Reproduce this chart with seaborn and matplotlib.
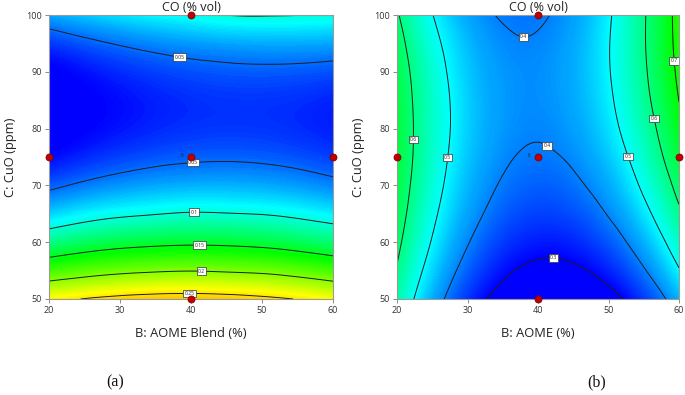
import numpy as np
import matplotlib
matplotlib.use("Agg")
import matplotlib.pyplot as plt
import matplotlib.tri as mtri
import seaborn as sns
from matplotlib.colors import LinearSegmentedColormap, Normalize

# Panel (a): B = AOME Blend (%), C = CuO (ppm), response CO (% vol)
aome_a = [20, 25, 30, 35, 40, 45, 50, 55, 60]
cuo_a = [50, 55, 60, 65, 70, 75, 80, 85, 90, 95, 100]
co_a = [
    [0.242, 0.251, 0.258, 0.262, 0.263, 0.261, 0.256, 0.249, 0.239],
    [0.177, 0.186, 0.193, 0.197, 0.199, 0.197, 0.194, 0.187, 0.178],
    [0.122, 0.132, 0.139, 0.143, 0.145, 0.144, 0.141, 0.135, 0.127],
    [0.078, 0.088, 0.095, 0.099, 0.102, 0.101, 0.099, 0.094, 0.087],
    [0.0448, 0.0542, 0.0613, 0.0662, 0.0688, 0.0692, 0.0673, 0.0632, 0.0570],
    [0.0216, 0.0310, 0.0382, 0.0433, 0.0463, 0.0472, 0.0460, 0.0427, 0.0374],
    [0.0088, 0.0182, 0.0255, 0.0309, 0.0343, 0.0357, 0.0351, 0.0326, 0.0283],
    [0.0064, 0.0158, 0.0233, 0.0289, 0.0327, 0.0346, 0.0347, 0.0331, 0.0297],
    [0.0150, 0.0244, 0.0320, 0.0379, 0.0421, 0.0446, 0.0454, 0.0446, 0.0422],
    [0.0349, 0.0442, 0.0519, 0.0581, 0.0627, 0.0657, 0.0673, 0.0673, 0.0659],
    [0.0659, 0.0752, 0.0830, 0.0895, 0.0945, 0.1003, 0.1015, 0.1005, 0.0985],
]
levels_a = [0.05, 0.1, 0.15, 0.2, 0.25]

# Panel (b): B = AOME (%), C = CuO (ppm), response CO (% vol)
aome_b = [20, 22.5, 25, 27.5, 30, 32.5, 35, 37.5, 40, 42.5, 45, 47.5, 50, 52.5, 55, 57.5, 60]
cuo_b = [50, 55, 60, 65, 70, 75, 80, 85, 90, 95, 100]
co_b = [
    [0.566, 0.497, 0.436, 0.384, 0.339, 0.303, 0.275, 0.255, 0.243, 0.239, 0.243, 0.256, 0.277, 0.305, 0.342, 0.387, 0.441],
    [0.594, 0.527, 0.468, 0.417, 0.374, 0.340, 0.313, 0.295, 0.285, 0.283, 0.289, 0.303, 0.325, 0.355, 0.394, 0.440, 0.495],
    [0.617, 0.552, 0.495, 0.445, 0.404, 0.371, 0.346, 0.329, 0.321, 0.320, 0.328, 0.344, 0.367, 0.399, 0.439, 0.487, 0.544],
    [0.635, 0.571, 0.515, 0.468, 0.428, 0.397, 0.373, 0.358, 0.351, 0.352, 0.361, 0.378, 0.404, 0.437, 0.479, 0.529, 0.587],
    [0.648, 0.585, 0.531, 0.484, 0.446, 0.416, 0.394, 0.381, 0.375, 0.377, 0.388, 0.407, 0.434, 0.469, 0.513, 0.564, 0.624],
    [0.655, 0.594, 0.540, 0.495, 0.458, 0.430, 0.409, 0.397, 0.393, 0.397, 0.409, 0.430, 0.458, 0.495, 0.540, 0.594, 0.655],
    [0.657, 0.596, 0.544, 0.501, 0.465, 0.438, 0.419, 0.408, 0.405, 0.411, 0.425, 0.447, 0.477, 0.516, 0.562, 0.617, 0.681],
    [0.653, 0.593, 0.543, 0.500, 0.465, 0.439, 0.422, 0.412, 0.411, 0.418, 0.434, 0.457, 0.489, 0.530, 0.579, 0.635, 0.701],
    [0.643, 0.585, 0.535, 0.493, 0.460, 0.435, 0.419, 0.411, 0.411, 0.420, 0.437, 0.462, 0.496, 0.538, 0.589, 0.648, 0.715],
    [0.628, 0.570, 0.521, 0.481, 0.449, 0.425, 0.410, 0.403, 0.405, 0.415, 0.434, 0.461, 0.497, 0.541, 0.594, 0.655, 0.724],
    [0.607, 0.550, 0.502, 0.462, 0.431, 0.409, 0.395, 0.390, 0.393, 0.405, 0.425, 0.454, 0.492, 0.538, 0.593, 0.656, 0.728],
]
levels_b = [0.3, 0.4, 0.5, 0.6, 0.7]

# design points
design_b = [40, 20, 40, 60, 40]
design_c = [100, 75, 75, 75, 50]
center_reps = "6"

x_ticks = [20, 30, 40, 50, 60]
y_ticks = [50, 60, 70, 80, 90, 100]

# ---------------- style ----------------
sns.set_theme(style="white")
plt.rcParams["font.family"] = ["Open Sans", "DejaVu Sans"]

fig = plt.figure(figsize=(6.85, 3.95), dpi=100)
axA = fig.add_axes([49 / 685, 96 / 395, 284 / 685, 284 / 395])
axB = fig.add_axes([397 / 685, 96 / 395, 282 / 685, 284 / 395])

ramp = ["#0000ff", "#00ffff", "#00ff00", "#ffff00", "#ff0000"]
cmap_a = LinearSegmentedColormap.from_list(
    "de_a", list(zip([0.0, 0.22, 0.43, 0.69, 1.0], ramp)))
cmap_b = LinearSegmentedColormap.from_list("de_b", ramp)


def grid_triangulation(x, y):
    X, Y = np.meshgrid(np.asarray(x, float), np.asarray(y, float))
    nx, ny = len(x), len(y)
    tris = []
    for j in range(ny - 1):
        for i in range(nx - 1):
            p = j * nx + i
            tris.append([p, p + 1, p + nx + 1])
            tris.append([p, p + nx + 1, p + nx])
    return mtri.Triangulation(X.ravel(), Y.ravel(), np.array(tris))


def draw(ax, x, y, z, cmap, vmin, vmax, levels, lab_pos, xlabel):
    tri = grid_triangulation(x, y)
    zz = np.asarray(z, float).ravel()
    tri_r, z_r = mtri.UniformTriRefiner(tri).refine_field(zz, subdiv=3)
    ax.tricontourf(tri_r, z_r, levels=np.linspace(z_r.min() - 1e-6, z_r.max() + 1e-6, 160),
                   cmap=cmap, norm=Normalize(vmin, vmax), antialiased=False)
    cs = ax.tricontour(tri_r, z_r, levels=levels, colors="#1e1e1e", linewidths=0.7)
    texts = ax.clabel(cs, fmt=lambda v: f"{v:g}", inline=False, fontsize=3.6, manual=lab_pos)
    for t in texts:
        t.set_rotation(0)
        t.set_color("#222222")
        t.set_bbox(dict(boxstyle="square,pad=0.25", fc="white", ec="#333333", lw=0.5))
    sns.scatterplot(x=design_b, y=design_c, ax=ax, color="#c00000",
                    edgecolor="#7a0000", linewidth=0.5, s=26, zorder=6, clip_on=False, legend=False)
    ax.text(38.9, 75.3, center_reps, fontsize=3.5, ha="right", va="center", color="#222222", zorder=7)
    ax.set_xlim(20, 60)
    ax.set_ylim(50, 100)
    ax.set_xticks(x_ticks)
    ax.set_yticks(y_ticks)
    ax.tick_params(axis="both", direction="out", length=3, width=0.6, color="#777777",
                   labelsize=6.5, labelcolor="#333333", pad=2, bottom=True, left=True)
    for s in ax.spines.values():
        s.set_color("#9a9a9a")
        s.set_linewidth(0.8)
    ax.set_title("CO (% vol)", fontsize=9, pad=3.2, color="#222222")
    ax.set_xlabel(xlabel, fontsize=9.3, labelpad=9, color="#222222")
    ax.set_ylabel("C: CuO (ppm)", fontsize=9.3, labelpad=7, color="#222222")


draw(axA, aome_a, cuo_a, co_a, cmap_a, 0.02, 0.34, levels_a,
     [(38.4, 92.6), (40.3, 74.0), (40.4, 65.0), (41.2, 59.4), (41.5, 54.7), (39.8, 51.0)],
     "B: AOME Blend (%)")
draw(axB, aome_b, cuo_b, co_b, cmap_b, 0.3, 1.1, levels_b,
     [(38.0, 97.0), (59.3, 91.9), (56.5, 81.8), (22.3, 78.1), (27.1, 74.9), (41.5, 77.3),
      (52.6, 75.0), (42.2, 57.8)],
     "B: AOME (%)")

fig.text(115 / 685, 1 - 382 / 395, "(a)", family=["Liberation Serif"], fontsize=11.5,
         ha="center", va="center", color="#111111")
fig.text(597 / 685, 1 - 382 / 395, "(b)", family=["Liberation Serif"], fontsize=11.5,
         ha="center", va="center", color="#111111")
fig.savefig("out.png", dpi=100)
